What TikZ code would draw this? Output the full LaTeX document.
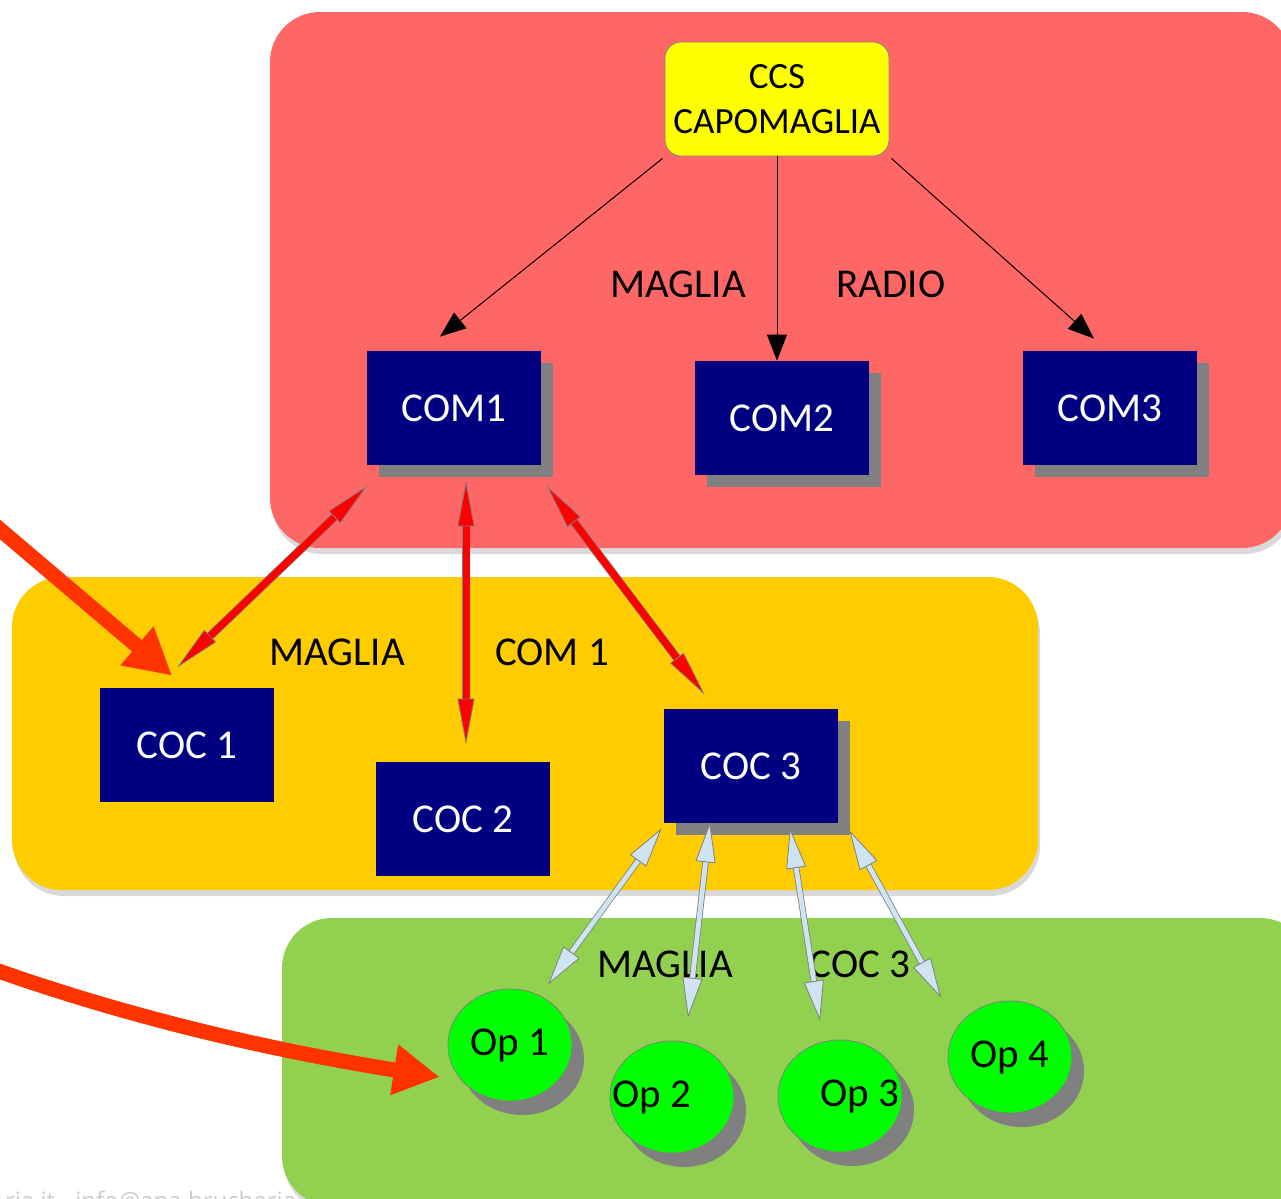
\documentclass[tikz,border=0pt]{standalone}
\usepackage{fontspec}
\setmainfont{Carlito}
\newfontfamily\creditfont{Open Sans}
\usetikzlibrary{arrows.meta,shapes.geometric,shadows}

\definecolor{zonered}{RGB}{255,102,102}
\definecolor{zoneyellow}{RGB}{255,204,0}
\definecolor{zonegreen}{RGB}{146,208,80}
\definecolor{boxnavy}{RGB}{0,0,128}
\definecolor{ccsyellow}{RGB}{255,255,0}
\definecolor{opgreen}{RGB}{0,255,0}
\definecolor{linkblue}{RGB}{207,228,243}
\definecolor{pointer}{RGB}{255,51,0}

\begin{document}
\begin{tikzpicture}[x = 0.5pt, y = -0.5pt,
  zone/.style = {rounded corners = 25pt, drop shadow = {shadow xshift = 1pt, shadow yshift = -3pt, opacity = 0.3}},
  ccsbox/.style = {rectangle, rounded corners = 8pt, draw = gray, fill = ccsyellow, align = center,
    minimum width = 112pt, minimum height = 57pt, inner sep = 1pt, font = \fontsize{18.5}{22.5}\selectfont},
  com/.style = {rectangle, fill = boxnavy, text = white, minimum width = 87pt, minimum height = 57pt,
    font = \fontsize{20.5}{24}\selectfont},
  shade/.style = {drop shadow = {shadow xshift = 6pt, shadow yshift = -6pt, fill = gray, opacity = 1}},
  op/.style = {ellipse, draw = gray, fill = opgreen, minimum width = 62pt, minimum height = 56pt, inner sep = 0pt,
    font = \fontsize{20.5}{24}\selectfont,
    drop shadow = {shadow xshift = 6pt, shadow yshift = -7pt, fill = gray, opacity = 1}},
  tag/.style = {font = \fontsize{20.5}{24}\selectfont},
  mesh/.style = {-{Triangle[length = 13pt, width = 10pt]}, black, line width = 0.5pt},
  duplex/.style = {{Triangle[length = 23pt, width = 8.5pt, fill = red, color = gray, line width = 0.4pt]}-{Triangle[length = 23pt, width = 8.5pt, fill = red, color = gray, line width = 0.4pt]},
    red, line width = 3.5pt,
    preaction = {draw = gray, line width = 4.3pt, arrows = -, shorten < = 16pt, shorten > = 16pt}},
  uplink/.style = {{Triangle[length = 20pt, width = 10pt, fill = linkblue, color = gray, line width = 0.4pt]}-{Triangle[length = 20pt, width = 10pt, fill = linkblue, color = gray, line width = 0.4pt]},
    linkblue, line width = 2.4pt,
    preaction = {draw = gray, line width = 3.2pt, arrows = -, shorten < = 14pt, shorten > = 14pt}},
  hint/.style = {-{Triangle[length = 23pt, width = 24pt]}, pointer, line width = 7.5pt}
]
\useasboundingbox (0, 0) rectangle (1281, 1199);

\node[anchor = base west, text = gray!40, font = \creditfont\fontsize{12}{14}\selectfont] (credit) at (-2, 1209) {ria.it - info@ana brucheria};

\fill[zone, zonered] (270, 12) rectangle (1292, 548);
\fill[zone, zoneyellow] (12, 577) rectangle (1038, 890);
\fill[zone, zonegreen] (282, 918) rectangle (1310, 1206);

\node[ccsbox] (ccs) at (777, 99) {CCS\\CAPOMAGLIA};

\node[com, shade] (com1) at (454, 408) {COM1};
\node[com, shade] (com2) at (782, 418) {COM2};
\node[com, shade] (com3) at (1110, 408) {COM3};

\node[com] (coc1) at (187, 745) {COC 1};
\node[com] (coc2) at (463, 819) {COC 2};
\node[com, shade] (coc3) at (751, 766) {COC 3};

\node[op] (op1) at (510, 1045) {Op 1};
\node[op] (op2) at (672, 1097) {\hspace*{-10pt}Op 2\hspace*{10pt}};
\node[op] (op3) at (840, 1096) {\hspace*{10pt}Op 3\hspace*{-10pt}};
\node[op] (op4) at (1010, 1057) {Op 4};

\node[tag] (t1) at (678, 284) {MAGLIA};
\node[tag] (t2) at (891, 284) {RADIO};
\node[tag] (t3) at (337, 652) {MAGLIA};
\node[tag] (t4) at (552, 652) {COM 1};
\node[tag] (t5) at (665, 964) {MAGLIA};
\node[tag] (t6) at (860, 964) {COC 3};

\draw[mesh] ([shift = {(-1pt, -1pt)}]ccs.south west) -- ([shift = {(-7pt, 7pt)}]com1.north);
\draw[mesh] (ccs.south) -- (ccs.south |- com2.north);
\draw[mesh] ([shift = {(1pt, -1pt)}]ccs.south east) -- ([shift = {(-8pt, 6pt)}]com3.north);

\draw[duplex] ([shift = {(0.5pt, -10pt)}]com1.south west) -- ([shift = {(-5pt, 10pt)}]coc1.north);
\draw[duplex] ([shift = {(6pt, -7.5pt)}]com1.south) -- ([shift = {(1.5pt, 8.5pt)}]coc2.north);
\draw[duplex] ([shift = {(2.5pt, -10pt)}]com1.south east) -- ([shift = {(20.5pt, 7pt)}]coc3.north west);

\draw[uplink] ([shift = {(-1pt, -2.5pt)}]coc3.south west) -- ([shift = {(19pt, 2pt)}]op1.north);
\draw[uplink] ([shift = {(-20.5pt, 0.5pt)}]coc3.south) -- ([shift = {(8pt, 11.5pt)}]op2.north);
\draw[uplink] ([shift = {(19.5pt, -2.5pt)}]coc3.south) -- ([shift = {(-10pt, 9.5pt)}]op3.north);
\draw[uplink] ([shift = {(5.5pt, -3.5pt)}]coc3.south east) -- ([shift = {(-34.5pt, 1.5pt)}]op4.north);

\coordinate (from1) at (-10, 521);
\coordinate (from2) at (-10, 968);
\draw[hint] (from1) -- ([shift = {(-7.5pt, 6pt)}]coc1.north);
\draw[hint] (from2) .. controls (150, 1025) and (300, 1055) .. ([shift = {(-4pt, -16pt)}]op1.west);
\end{tikzpicture}
\end{document}
